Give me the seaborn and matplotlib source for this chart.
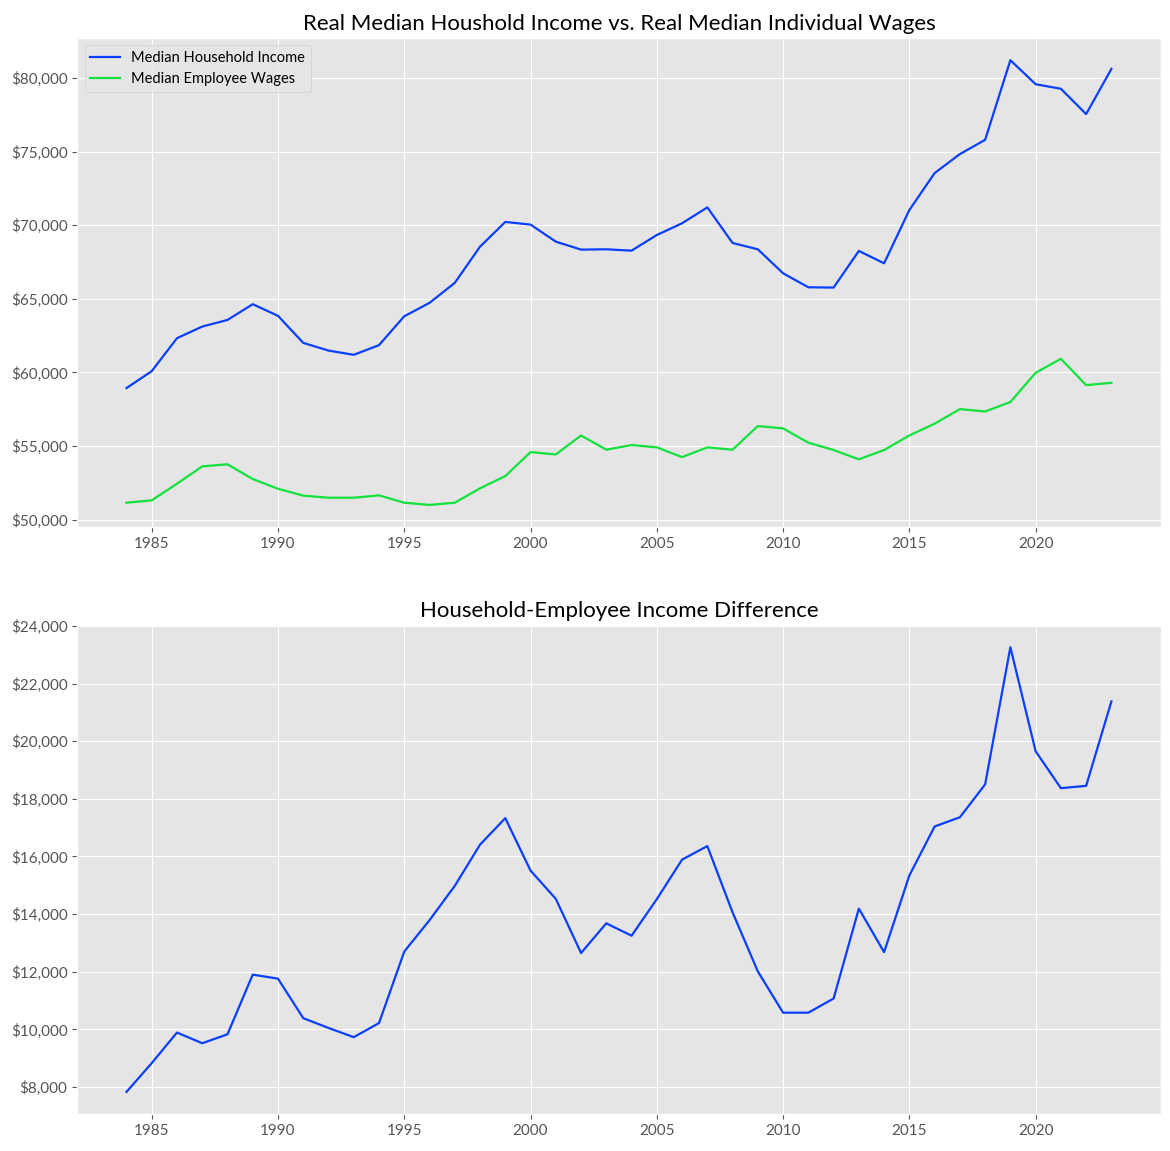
import matplotlib
matplotlib.use("Agg")
import matplotlib.pyplot as plt
import matplotlib.ticker as mticker
import pandas as pd
import seaborn as sns

# years 1984 - 2023
years = list(range(1984, 2024))

household_income = [
    58940, 60090, 62330, 63120, 63570, 64640, 63850, 62010, 61490, 61200,
    61860, 63820, 64730, 66090, 68550, 70230, 70050, 68890, 68350, 68370,
    68280, 69340, 70140, 71220, 68800, 68370, 66740, 65790, 65770, 68260,
    67420, 71040, 73550, 74840, 75810, 81220, 79590, 79280, 77560, 80630,
]

employee_wages = [
    51150, 51310, 52440, 53620, 53760, 52760, 52100, 51630, 51490, 51490,
    51650, 51150, 51000, 51150, 52130, 52960, 54590, 54430, 55720, 54750,
    55070, 54910, 54250, 54910, 54750, 56360, 56200, 55230, 54730, 54100,
    54730, 55720, 56520, 57510, 57350, 57990, 59980, 60930, 59140, 59300,
]

income_diff = [
    7830, 8830, 9890, 9520, 9830, 11900, 11760, 10390, 10050, 9730,
    10220, 12700, 13790, 14980, 16410, 17330, 15510, 14530, 12650, 13680,
    13250, 14520, 15890, 16360, 14060, 12010, 10580, 10580, 11070, 14190,
    12680, 15340, 17040, 17360, 18500, 23260, 19650, 18370, 18450, 21380,
]

series_names = ["Median Household Income", "Median Employee Wages"]
blue = "#0a3fff"
green = "#12e23c"

plt.style.use("ggplot")
plt.rcParams["font.family"] = ["Lato", "DejaVu Sans"]

df = pd.DataFrame({
    "year": years * 2,
    "value": household_income + employee_wages,
    "series": [series_names[0]] * len(years) + [series_names[1]] * len(years),
})
df_diff = pd.DataFrame({"year": years, "diff": income_diff})

fig, axes = plt.subplots(2, 1, figsize=(11.7, 11.51), dpi=100)
fig.subplots_adjust(left=0.066, right=0.992, top=0.967, bottom=0.032, hspace=0.2)

# top: household income vs wages
ax = axes[0]
sns.lineplot(data=df, x="year", y="value", hue="series",
             palette=[blue, green], linewidth=1.6, ax=ax)
ax.set_title("Real Median Houshold Income vs. Real Median Individual Wages",
             fontsize=16, color="black")
ax.set_xlabel("")
ax.set_ylabel("")
ax.legend(title=None, loc="upper left", fontsize=10.5)
ax.yaxis.set_major_formatter(mticker.StrMethodFormatter("${x:,.0f}"))

# bottom: difference
ax = axes[1]
sns.lineplot(data=df_diff, x="year", y="diff", color=blue, linewidth=1.6, ax=ax)
ax.set_title("Household-Employee Income Difference", fontsize=16, color="black")
ax.set_xlabel("")
ax.set_ylabel("")
ax.yaxis.set_major_formatter(mticker.StrMethodFormatter("${x:,.0f}"))

for ax in axes:
    ax.set_xticks(range(1985, 2024, 5))
    ax.tick_params(labelsize=11, colors="#555555")

plt.savefig("out.png", dpi=100)
